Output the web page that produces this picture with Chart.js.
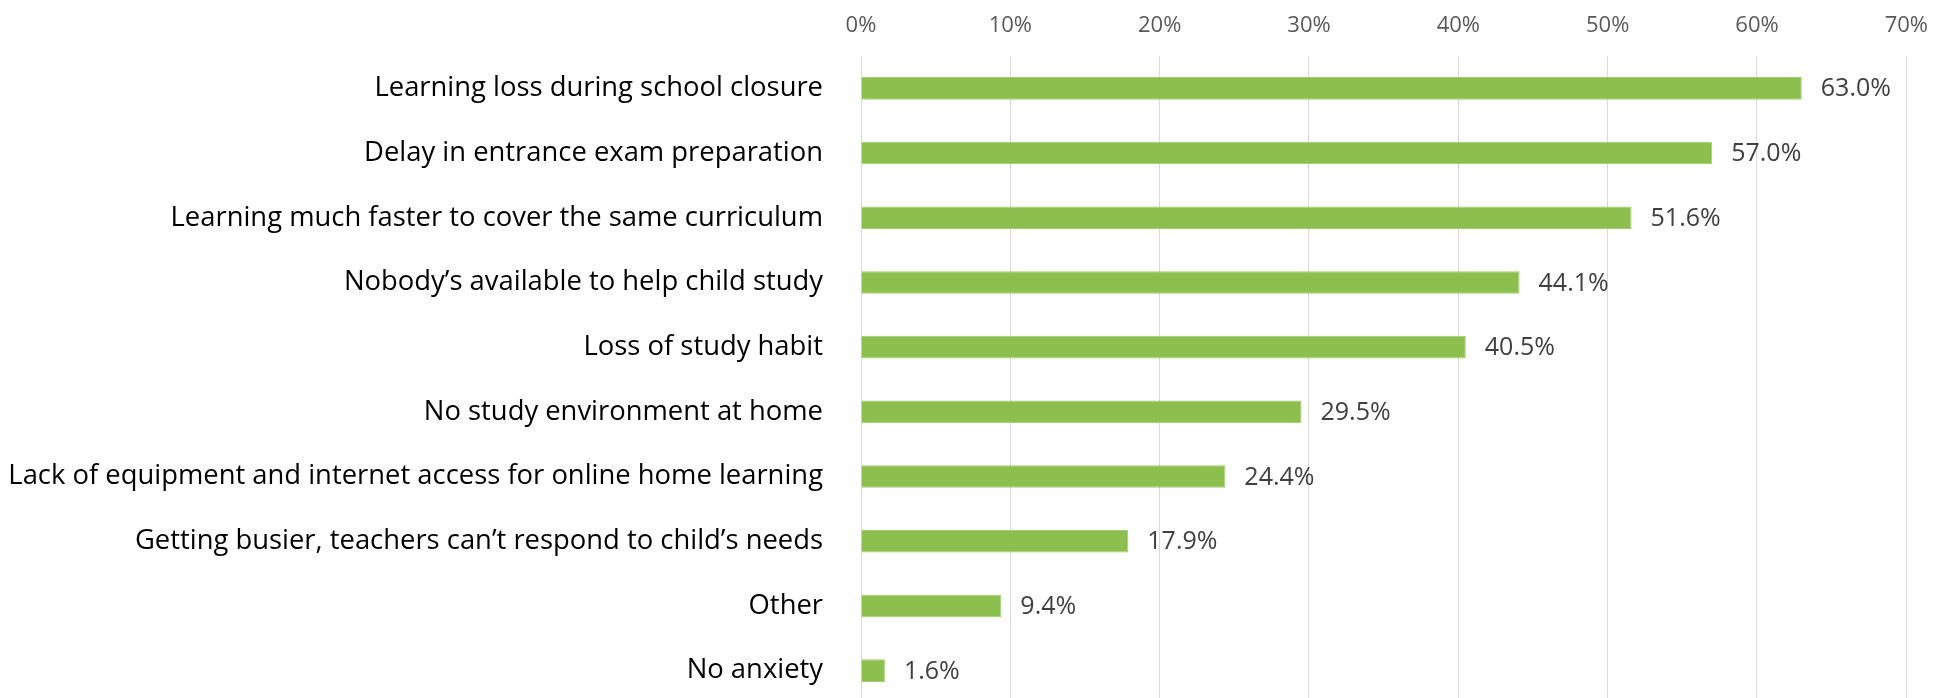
<!DOCTYPE html>
<html>
<head>
<meta charset="utf-8">
<script src="https://cdn.jsdelivr.net/npm/chart.js@4"></script>
<style>
  html, body { margin: 0; padding: 0; background: #fff; overflow: hidden; }
  canvas { display: block; }
</style>
</head>
<body>
<canvas id="grafico" width="1945" height="705"></canvas>
<script>
// categories, top to bottom
const categorias = [
  "Learning loss during school closure",
  "Delay in entrance exam preparation",
  "Learning much faster to cover the same curriculum",
  "Nobody\u2019s available to help child study",
  "Loss of study habit",
  "No study environment at home",
  "Lack of equipment and internet access for online home learning",
  "Getting busier, teachers can\u2019t respond to child\u2019s needs",
  "Other",
  "No anxiety"
];
// percent of respondents
const valores = [63.0, 57.0, 51.6, 44.1, 40.5, 29.5, 24.4, 17.9, 9.4, 1.6];
const ticksX = [0, 10, 20, 30, 40, 50, 60, 70];

const fonte = "'Open Sans', 'DejaVu Sans', sans-serif";

// rótulos de valor ao lado das barras
const rotulos = {
  id: "rotulos",
  afterDatasetsDraw(chart) {
    const ctx = chart.ctx;
    const meta = chart.getDatasetMeta(0);
    ctx.save();
    ctx.font = "25px " + fonte;
    ctx.fillStyle = "#404040";
    ctx.textAlign = "left";
    ctx.textBaseline = "middle";
    meta.data.forEach(function (barra, i) {
      ctx.fillText(valores[i].toFixed(1) + "%", barra.x + 19, barra.y + 1);
    });
    ctx.restore();
  }
};

new Chart(document.getElementById("grafico"), {
  type: "bar",
  data: {
    labels: categorias,
    datasets: [{
      data: valores,
      backgroundColor: "#8DBF4E",
      borderColor: "#A3CC6E",
      borderWidth: 1,
      barPercentage: 0.35,
      categoryPercentage: 1
    }]
  },
  options: {
    indexAxis: "y",
    responsive: false,
    animation: false,
    layout: { padding: { top: 0, right: 36, bottom: 2, left: 0 } },
    plugins: {
      legend: { display: false },
      tooltip: { enabled: false }
    },
    scales: {
      x: {
        position: "top",
        min: 0,
        max: 70,
        afterBuildTicks(scale) {
          scale.ticks = ticksX.map(v => ({ value: v }));
        },
        afterFit(scale) { scale.height = 56; },
        grid: { color: "#D9D9D9", lineWidth: 1, drawTicks: false },
        border: { display: false },
        ticks: {
          padding: 17,
          color: "#595959",
          font: { family: fonte, size: 22 },
          callback: v => v + "%"
        }
      },
      y: {
        afterFit(scale) {
          scale.width = 861;
          scale.paddingTop = 0;
          scale.paddingBottom = 0;
        },
        grid: { display: false },
        border: { display: false },
        ticks: {
          padding: 30,
          color: "#000000",
          font: { family: fonte, size: 27.4 }
        }
      }
    }
  },
  plugins: [rotulos]
});
</script>
</body>
</html>
